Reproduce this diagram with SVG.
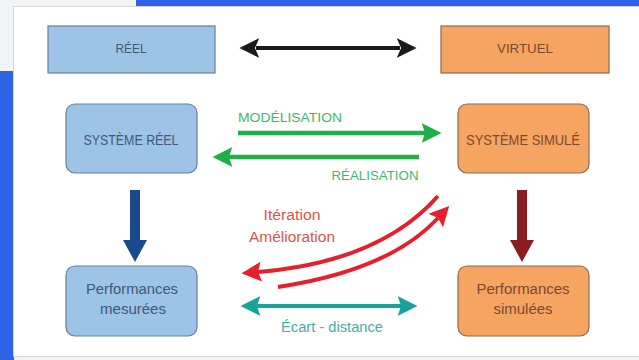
<svg xmlns="http://www.w3.org/2000/svg" width="639" height="360" viewBox="0 0 639 360">
<defs>
<style>
.t{font-family:"Liberation Sans","Open Sans",sans-serif;text-anchor:middle}
.blue rect{fill:#9dc3e6;stroke:#66809c;stroke-width:1.2}
.orange rect{fill:#f6a462;stroke:#8c6a52;stroke-width:1.2}
.blue text{fill:#3e5878}
.orange text{fill:#7a4a2c}
</style>
<marker id="hk" markerUnits="userSpaceOnUse" markerWidth="22" markerHeight="22" viewBox="0 -10 20 20" refX="3" refY="0" orient="auto-start-reverse"><path d="M0,-9 L18,0 L0,9 L4,0 z" fill="#1a1a1a"/></marker>
<marker id="hg" markerUnits="userSpaceOnUse" markerWidth="22" markerHeight="22" viewBox="0 -10 20 20" refX="3" refY="0" orient="auto"><path d="M0,-9 L18,0 L0,9 L3,0 z" fill="#1fb04a"/></marker>
<marker id="hr" markerUnits="userSpaceOnUse" markerWidth="22" markerHeight="22" viewBox="0 -10 20 20" refX="3" refY="0" orient="auto"><path d="M0,-9 L18,0 L0,9 L3,0 z" fill="#e5202c"/></marker>
<marker id="ht" markerUnits="userSpaceOnUse" markerWidth="22" markerHeight="22" viewBox="0 -10 20 20" refX="3" refY="0" orient="auto-start-reverse"><path d="M0,-9 L18,0 L0,9 L3,0 z" fill="#18a39a"/></marker>
</defs>
<rect x="0" y="0" width="639" height="360" fill="#f2f3f4"/>
<rect x="136" y="0" width="503" height="7" fill="#2f63e6"/>
<rect x="0" y="71" width="14" height="289" fill="#2f63e6"/>
<rect x="13.5" y="6.5" width="626" height="350" fill="#ffffff" stroke="#d4d6d8"/>

<g id="reel" class="blue"><rect x="48" y="26" width="167" height="47"/><text class="t" x="131" y="53" font-size="13" textLength="31" lengthAdjust="spacingAndGlyphs">RÉEL</text></g>
<g id="virtuel" class="orange"><rect x="441" y="26" width="168" height="47"/><text class="t" x="525" y="53" font-size="13" textLength="56" lengthAdjust="spacingAndGlyphs">VIRTUEL</text></g>
<g id="systeme-reel" class="blue"><rect x="66" y="104" width="131" height="69" rx="9"/><text class="t" x="131" y="145" font-size="14" textLength="95" lengthAdjust="spacingAndGlyphs">SYSTÈME RÉEL</text></g>
<g id="systeme-simule" class="orange"><rect x="458" y="104" width="131" height="69" rx="9"/><text class="t" x="523" y="145" font-size="14" textLength="114" lengthAdjust="spacingAndGlyphs">SYSTÈME SIMULÉ</text></g>
<g id="perf-mesurees" class="blue"><rect x="66" y="266" width="131" height="70" rx="9"/><text class="t" x="132" y="294" font-size="14" textLength="92" lengthAdjust="spacingAndGlyphs">Performances</text><text class="t" x="133" y="314" font-size="14" textLength="66" lengthAdjust="spacingAndGlyphs">mesurées</text></g>
<g id="perf-simulees" class="orange"><rect x="458" y="266" width="131" height="70" rx="9"/><text class="t" x="523" y="294" font-size="14" textLength="93" lengthAdjust="spacingAndGlyphs">Performances</text><text class="t" x="523" y="314" font-size="14" textLength="59" lengthAdjust="spacingAndGlyphs">simulées</text></g>

<g id="connectors">
<line x1="256" y1="48" x2="400" y2="48" stroke="#1a1a1a" stroke-width="4" marker-start="url(#hk)" marker-end="url(#hk)"/>
<line x1="238" y1="133" x2="425" y2="133" stroke="#1fb04a" stroke-width="4.5" marker-end="url(#hg)"/>
<line x1="419" y1="157" x2="229" y2="157" stroke="#1fb04a" stroke-width="4.5" marker-end="url(#hg)"/>
<polygon points="130,190 140,190 140,240 147,240 135,262 123,240 130,240" fill="#1a4a8a"/>
<polygon points="517,190 527,190 527,240 534,240 522,262 510,240 517,240" fill="#8b1c22"/>
<path d="M438,196 Q380,262 258,272" fill="none" stroke="#e5202c" stroke-width="4" marker-end="url(#hr)"/>
<path d="M278,287 Q390,270 438,218" fill="none" stroke="#e5202c" stroke-width="4" marker-end="url(#hr)"/>
<line x1="257" y1="306" x2="401" y2="306" stroke="#18a39a" stroke-width="4" marker-start="url(#ht)" marker-end="url(#ht)"/>
</g>

<text class="t" x="290" y="122" font-size="13" fill="#3cb868" textLength="104" lengthAdjust="spacingAndGlyphs">MODÉLISATION</text>
<text class="t" x="375" y="180" font-size="13" fill="#3cb868" textLength="87" lengthAdjust="spacingAndGlyphs">RÉALISATION</text>
<text class="t" x="292" y="220" font-size="14" fill="#e0524c" textLength="57" lengthAdjust="spacingAndGlyphs">Itération</text>
<text class="t" x="292" y="242" font-size="14" fill="#e0524c" textLength="86" lengthAdjust="spacingAndGlyphs">Amélioration</text>
<text class="t" x="332" y="332" font-size="14" fill="#45aea8" textLength="102" lengthAdjust="spacingAndGlyphs">Écart - distance</text>
</svg>
